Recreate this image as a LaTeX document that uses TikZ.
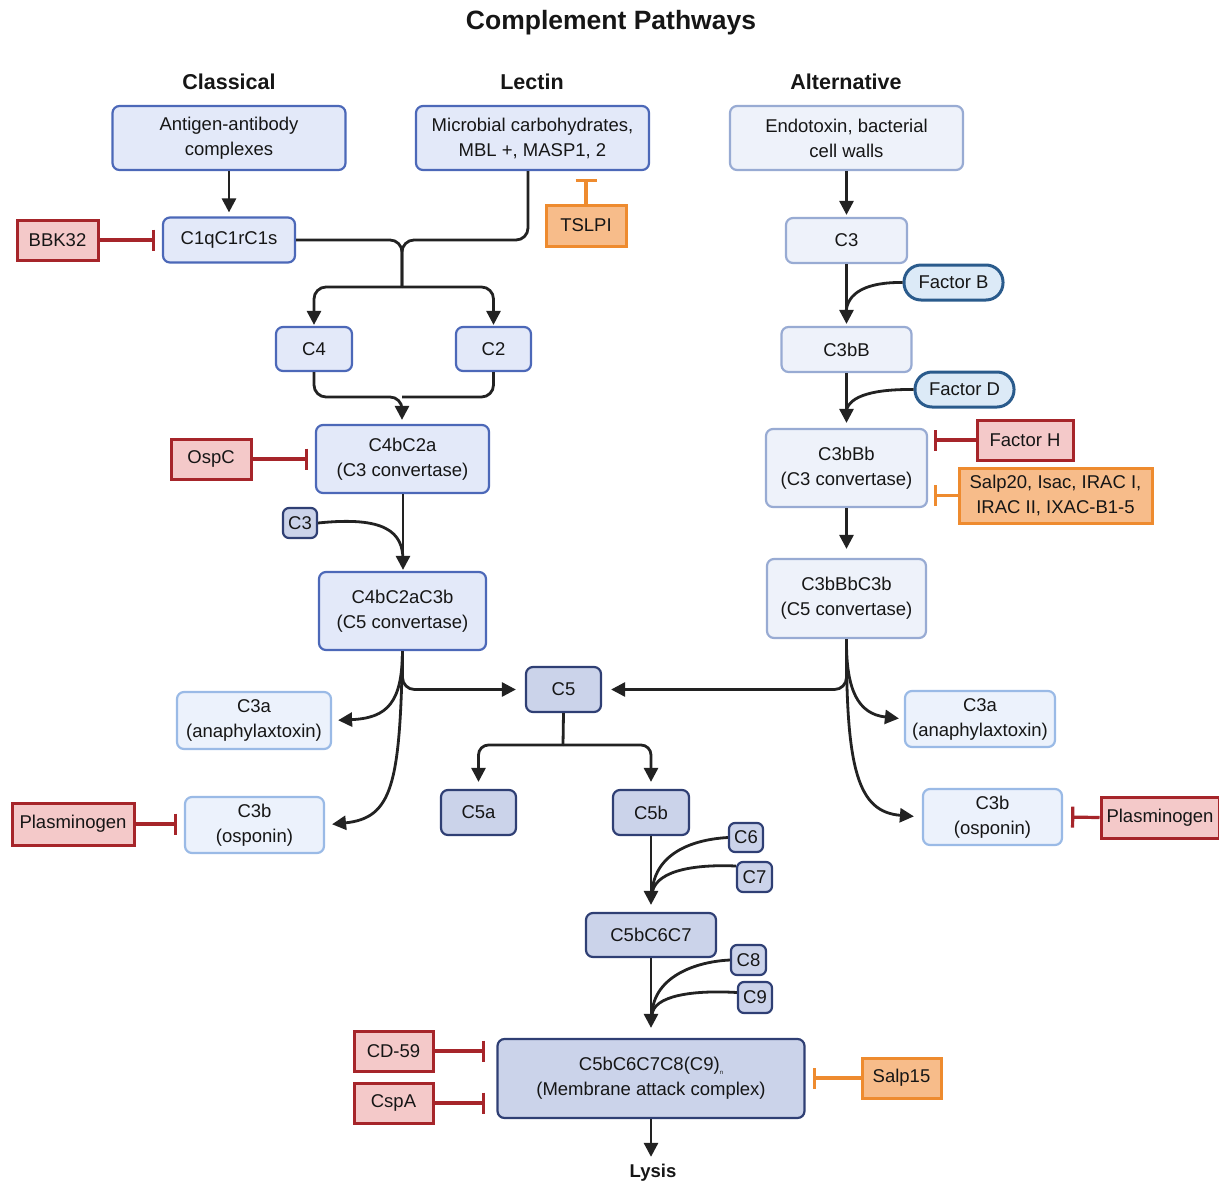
\documentclass[tikz,border=0pt]{standalone}
\usepackage{fontspec}
\setmainfont{Liberation Sans}
\usetikzlibrary{arrows.meta,calc}
\definecolor{clsfill}{HTML}{E3E9F9}
\definecolor{clsdraw}{HTML}{4C68B8}
\definecolor{altfill}{HTML}{EEF2FA}
\definecolor{altdraw}{HTML}{98ABD3}
\definecolor{prodfill}{HTML}{ECF2FC}
\definecolor{proddraw}{HTML}{9ABAE6}
\definecolor{termfill}{HTML}{CBD3EA}
\definecolor{termdraw}{HTML}{2F3F74}
\definecolor{facfill}{HTML}{DCEAF7}
\definecolor{facdraw}{HTML}{2A5B8C}
\definecolor{redfill}{HTML}{F4C9C9}
\definecolor{reddraw}{HTML}{A6252A}
\definecolor{orfill}{HTML}{F7BC8A}
\definecolor{ordraw}{HTML}{EE8B2F}
\definecolor{linec}{HTML}{222222}
\definecolor{txtc}{HTML}{161616}
\newcommand\myfs{\fontsize{18.5}{25}\selectfont}
\begin{document}
\begin{tikzpicture}[x=1pt,y=-1pt,
  sz/.style 2 args={minimum width=#1pt, minimum height=#2pt},
  box/.style={draw, rounded corners=7pt, line width=2.2pt, align=center, inner sep=0pt, font=\myfs, text=txtc},
  cls/.style={box, fill=clsfill, draw=clsdraw},
  alt/.style={box, fill=altfill, draw=altdraw},
  prod/.style={box, fill=prodfill, draw=proddraw},
  term/.style={box, fill=termfill, draw=termdraw},
  small/.style={term, rounded corners=6pt},
  fac/.style={box, rounded corners=17pt, fill=facfill, draw=facdraw, line width=3pt},
  inhbox/.style={box, sharp corners, fill=redfill, draw=reddraw, line width=3pt},
  orbox/.style={box, sharp corners, fill=orfill, draw=ordraw, line width=3pt},
  conn/.style={draw=linec, line width=2.8pt},
  arr/.style={conn, -{Triangle[length=14pt,width=14pt]}},
  inhR/.style={draw=reddraw, line width=3.2pt, -{Bar[width=21pt]}},
  inhO/.style={draw=ordraw, line width=3.2pt, -{Bar[width=21pt]}},
  head/.style={font=\fontsize{21.5}{25}\selectfont\bfseries, text=txtc}
]
\useasboundingbox (0,0) rectangle (1219,1184);

% titles
\node[font=\fontsize{26.5}{30}\selectfont\bfseries, text=txtc] (title) at (611,23) {Complement Pathways};
\node[head] (hcl) at (229,82) {Classical};
\node[head] (hle) at (532,82) {Lectin};
\node[head] (hal) at (846,82) {Alternative};

% classical / lectin
\node[cls, sz={233}{64}] (agab) at (229,138) {Antigen-antibody\\complexes};
\node[cls, sz={233}{64}] (micro) at (532.5,138) {Microbial carbohydrates,\\MBL +, MASP1, 2};
\node[cls, sz={132}{45}] (c1q) at (229,240) {C1qC1rC1s};
\node[inhbox, sz={81}{40}] (bbk) at (57.5,240) {BBK32};
\node[orbox, sz={80}{41}] (tslpi) at (586,225.5) {TSLPI};
\node[cls, sz={76}{44}] (c4) at (314,349) {C4};
\node[cls, sz={75}{44}] (c2) at (493.5,349) {C2};
\node[cls, sz={173}{68}] (c4b) at (402.5,459) {C4bC2a\\(C3 convertase)};
\node[inhbox, sz={80}{40}] (ospc) at (211,459) {OspC};
\node[small, sz={34}{30}] (c3s) at (300,523) {C3};
\node[cls, sz={167}{78}] (c4b5) at (402.5,611) {C4bC2aC3b\\(C5 convertase)};
\node[prod, sz={154}{57}] (c3aL) at (254,720.5) {C3a\\(anaphylaxtoxin)};
\node[prod, sz={139}{56}] (c3bL) at (254.5,825) {C3b\\(osponin)};
\node[inhbox, sz={122}{42}] (plasL) at (73,824) {Plasminogen};

% terminal
\node[term, sz={75}{45}] (c5) at (563.5,689.5) {C5};
\node[term, sz={75}{45}] (c5a) at (478.5,812.5) {C5a};
\node[term, sz={76}{45}] (c5b) at (651,812.5) {C5b};
\node[small, sz={34}{29}] (c6) at (746,837.5) {C6};
\node[small, sz={35}{30}] (c7) at (754.5,877) {C7};
\node[term, sz={130}{44}] (c567) at (651,935) {C5bC6C7};
\node[small, sz={35}{30}] (c8) at (748.5,960) {C8};
\node[small, sz={34}{31}] (c9) at (755,997.5) {C9};
\node[term, sz={307}{79}] (mac) at (651,1078.5) {C5bC6C7C8(C9)\raisebox{-4pt}{\fontsize{6}{6}\selectfont n}\\(Membrane attack complex)};
\node[inhbox, sz={79}{40}] (cd59) at (393.5,1051) {CD-59};
\node[inhbox, sz={79}{40}] (cspa) at (393.5,1103) {CspA};
\node[orbox, sz={79}{40}] (salp15) at (901.5,1078) {Salp15};
\node[font=\fontsize{18.5}{22}\selectfont\bfseries, text=txtc] (lysis) at (653,1173) {Lysis};

% alternative
\node[alt, sz={233}{64}] (endo) at (846.5,138) {Endotoxin, bacterial\\cell walls};
\node[alt, sz={121}{45}] (c3alt) at (846.5,240.5) {C3};
\node[fac, sz={99}{35}] (fb) at (953.5,282.5) {Factor B};
\node[alt, sz={130}{45}] (c3bB) at (846.5,349.5) {C3bB};
\node[fac, sz={99}{35}] (fd) at (964.5,389.5) {Factor D};
\node[alt, sz={161}{78}] (c3bbb) at (846.5,468) {C3bBb\\(C3 convertase)};
\node[inhbox, sz={96}{40}] (fh) at (1025,440) {Factor H};
\node[orbox, sz={193}{55}] (salp20) at (1055.5,495.5) {Salp20, Isac, IRAC I,\\IRAC II, IXAC-B1-5};
\node[alt, sz={159}{79}] (alt5) at (846.5,598.5) {C3bBbC3b\\(C5 convertase)};
\node[prod, sz={150}{56}] (c3aR) at (980,719) {C3a\\(anaphylaxtoxin)};
\node[prod, sz={139}{56}] (c3bR) at (992.5,817) {C3b\\(osponin)};
\node[inhbox, sz={118}{41}] (plasR) at (1160,817.5) {Plasminogen};

% coordinates
\coordinate (j1) at (402,240);
\coordinate (s1) at (402,287);
\coordinate (m2) at (402,397);
\coordinate (s5) at (563,745);

% classical / lectin connectors
\draw[arr, shorten >=4pt] (agab.south) -- (c1q.north);
\draw[conn, rounded corners=12pt] (c1q.east) -| (s1);
\draw[conn, rounded corners=12pt] (micro.south -| 528,0) -- (528,240) -- (j1) -- (s1);
\draw[arr, rounded corners=12pt, shorten >=1pt] (s1) -| (c4.north);
\draw[arr, rounded corners=12pt, shorten >=1pt] (s1) -| (c2.north);
\draw[conn, rounded corners=12pt] (c2.south) |- (m2);
\draw[arr, rounded corners=12pt, shorten >=4pt] (c4.south) |- (m2) -- (c4b.north -| m2);
\draw[inhR, shorten >=7pt] (bbk.east) -- (c1q.west);
\draw[inhO, shorten >=8pt] (tslpi.north) -- (tslpi.north |- micro.south);
\draw[inhR, shorten >=7pt] (ospc.east) -- (ospc.east -| c4b.west);
\draw[arr, shorten >=1pt] (c4b.south -| 403,0) -- (c4b5.north -| 403,0);
\draw[conn] (c3s.east) .. controls (385,516) and (403,532) .. (403,560);

% from C4bC2aC3b
\draw[arr, rounded corners=12pt, shorten >=9pt] (c4b5.south) |- (c5.west);
\draw[arr, shorten >=6pt] (c4b5.south) .. controls (402,702) and (388,718) .. (c3aL.east);
\draw[arr, shorten >=7pt] (c4b5.south) .. controls (400,785) and (392,818) .. (c3bL.east);
\draw[inhR, shorten >=7pt] (plasL.east) -- (plasL.east -| c3bL.west);

% from C3bBbC3b
\draw[arr, rounded corners=12pt, shorten >=9pt] (alt5.south) |- (c5.east);
\draw[arr, shorten >=5pt] (alt5.south) .. controls (846,690) and (858,714) .. (c3aR.west);
\draw[arr, shorten >=8pt] (alt5.south) .. controls (846,770) and (858,812) .. (c3bR.west);
\draw[inhR, shorten >=8pt] (plasR.west) -- (c3bR.east);

% C5 split
\draw[conn] (c5.south) -- (s5);
\draw[arr, rounded corners=10pt, shorten >=7pt] (s5) -| (c5a.north);
\draw[arr, rounded corners=10pt, shorten >=7pt] (s5) -| (c5b.north);

% terminal
\draw[arr, shorten >=7pt] (c5b.south) -- (c567.north);
\draw[conn] (c6.west) .. controls (685,840) and (652,858) .. (652,896);
\draw[conn] ($(c7.west)+(0,-11)$) .. controls (690,864) and (652,872) .. (652,896);
\draw[arr, shorten >=10pt] (c567.south) -- (mac.north);
\draw[conn] (c8.west) .. controls (690,962) and (652,980) .. (652,1016);
\draw[conn] ($(c9.west)+(0,-5)$) .. controls (695,990) and (652,995) .. (652,1016);
\draw[inhR, shorten >=11pt] (cd59.east) -- (cd59.east -| mac.west);
\draw[inhR, shorten >=11pt] (cspa.east) -- (cspa.east -| mac.west);
\draw[inhO, shorten >=7pt] (salp15.west) -- (salp15.west -| mac.east);
\draw[arr, shorten >=4pt] (mac.south) -- (mac.south |- lysis.north);

% alternative connectors
\draw[arr, shorten >=2pt] (endo.south) -- (c3alt.north);
\draw[arr, shorten >=2pt] (c3alt.south) -- (c3bB.north);
\draw[conn] (fb.west) .. controls (868,282) and (846,292) .. (846,314);
\draw[arr, shorten >=5pt] (c3bB.south) -- (c3bbb.north);
\draw[conn] (fd.west) .. controls (868,389) and (846,398) .. (846,414);
\draw[inhR, shorten >=6pt] (fh.west) -- (fh.west -| c3bbb.east);
\draw[inhO, shorten >=6pt] (salp20.west) -- (salp20.west -| c3bbb.east);
\draw[arr, shorten >=9pt] (c3bbb.south) -- (alt5.north);
\end{tikzpicture}
\end{document}
